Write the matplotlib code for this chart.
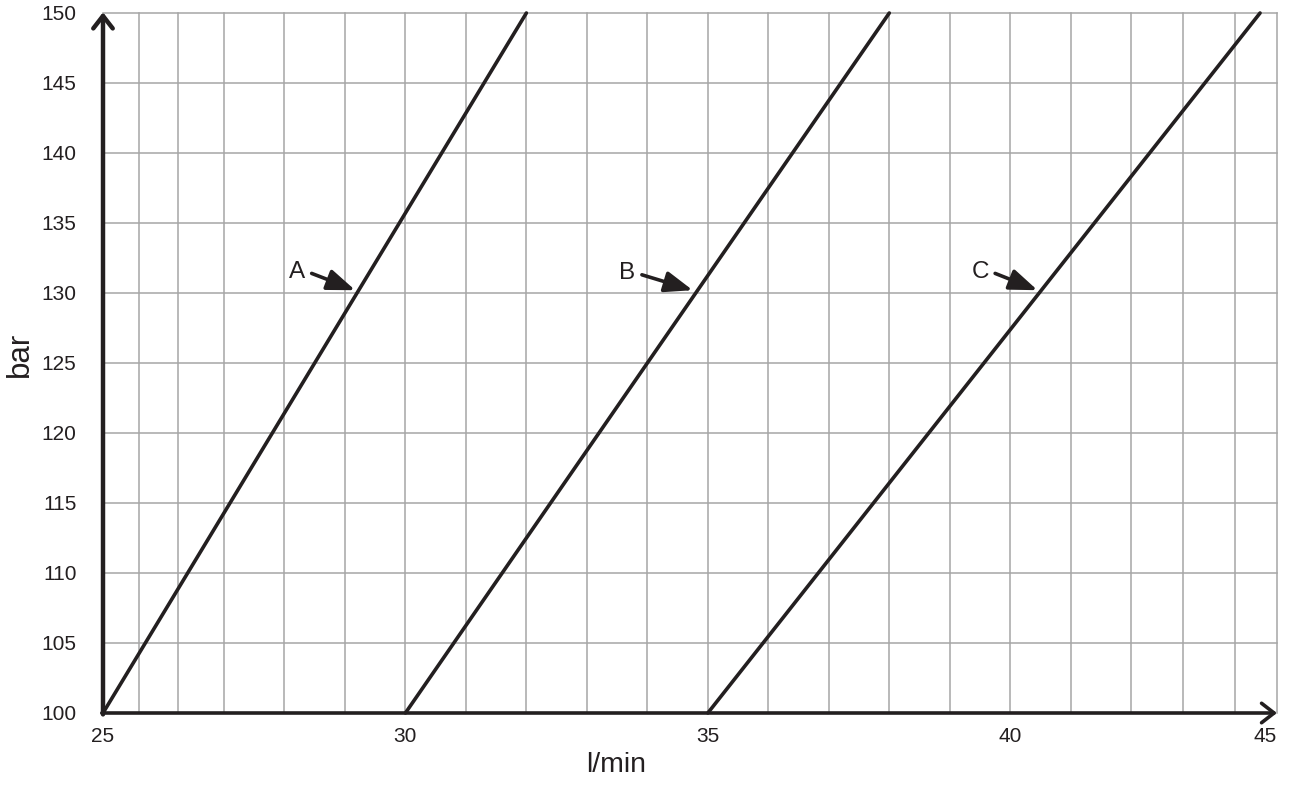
import matplotlib
matplotlib.use('Agg')
import matplotlib.pyplot as plt
import numpy as np

plt.rcParams['font.family'] = ['Liberation Sans', 'DejaVu Sans']

# curves: start and end points (l/min, bar)
curve_names = ['A', 'B', 'C']
flow_start = [25.0, 30.0, 35.0]
flow_end = [32.0, 38.0, 44.13]
bar_start = [100, 100, 100]
bar_end = [150, 150, 150]

# label positions and arrow tips
label_x = [28.2, 33.66, 39.5]
label_y = [131.5, 131.4, 131.5]
tip_x = [29.17, 34.75, 40.45]
tip_y = [130.2, 130.2, 130.2]

# grid as drawn in the source (not perfectly regular)
x_grid = [25.6, 26.24] + list(range(27, 43)) + [42.86, 43.71, 44.41]
y_grid = list(range(105, 151, 5))
x_ticks = [25, 30, 35, 40, 44.21]
x_tick_labels = ['25', '30', '35', '40', '45']
y_ticks = list(range(100, 151, 5))

fig = plt.figure(figsize=(12.9, 7.85), dpi=100, facecolor='white')
ax = fig.add_axes([103 / 1290, 72 / 785, 1174 / 1290, 700 / 785])
xmin, xmax = 25, 44.41
ymin, ymax = 100, 150
ax.set_xlim(xmin, xmax)
ax.set_ylim(ymin, ymax)

ink = '#231f20'
grid_color = '#a6a6a6'
for gx in x_grid:
    ax.plot([gx, gx], [ymin, ymax], color=grid_color, lw=1.1, zorder=1, clip_on=False)
for gy in y_grid:
    ax.plot([xmin, xmax], [gy, gy], color=grid_color, lw=1.1, zorder=1, clip_on=False)

for x0, x1, y0, y1 in zip(flow_start, flow_end, bar_start, bar_end):
    ax.plot([x0, x1], [y0, y1], color=ink, lw=2.6, solid_capstyle='round',
            zorder=3, clip_on=False)

for name, lx, ly, tx, ty in zip(curve_names, label_x, label_y, tip_x, tip_y):
    ax.text(lx, ly, name, fontsize=17.5, ha='center', va='center', color=ink)
    ax.annotate('', xy=(tx, ty), xytext=(lx + 0.25, ly - 0.1),
                arrowprops=dict(arrowstyle='-|>,head_length=0.85,head_width=0.32',
                                lw=2.6, color=ink, mutation_scale=20,
                                shrinkA=0, shrinkB=0),
                zorder=4)

# axes with open arrow heads
ax.annotate('', xy=(xmin, ymax + 0.05), xytext=(xmin, ymin - 0.1),
            arrowprops=dict(arrowstyle='->,head_length=0.45,head_width=0.35',
                            lw=3.2, color=ink, mutation_scale=20,
                            shrinkA=0, shrinkB=0),
            annotation_clip=False, zorder=5)
ax.annotate('', xy=(xmax, ymin), xytext=(xmin - 0.02, ymin),
            arrowprops=dict(arrowstyle='->,head_length=0.45,head_width=0.35',
                            lw=2.6, color=ink, mutation_scale=20,
                            shrinkA=0, shrinkB=0),
            annotation_clip=False, zorder=5)

for s in ax.spines.values():
    s.set_visible(False)

ax.set_xticks(x_ticks)
ax.set_xticklabels(x_tick_labels)
ax.set_yticks(y_ticks)
ax.tick_params(length=0, labelsize=15, colors=ink)
ax.tick_params(axis='x', pad=10)
ax.tick_params(axis='y', pad=19)

fig.text(616 / 1290, 1 - 765 / 785, 'l/min', fontsize=20.5, color=ink,
         ha='center', va='center')
fig.text(20 / 1290, 1 - 354 / 785, 'bar', fontsize=22.5, color=ink,
         ha='center', va='center', rotation=90)

plt.savefig('out.png', dpi=100, facecolor='white')
plt.close()
